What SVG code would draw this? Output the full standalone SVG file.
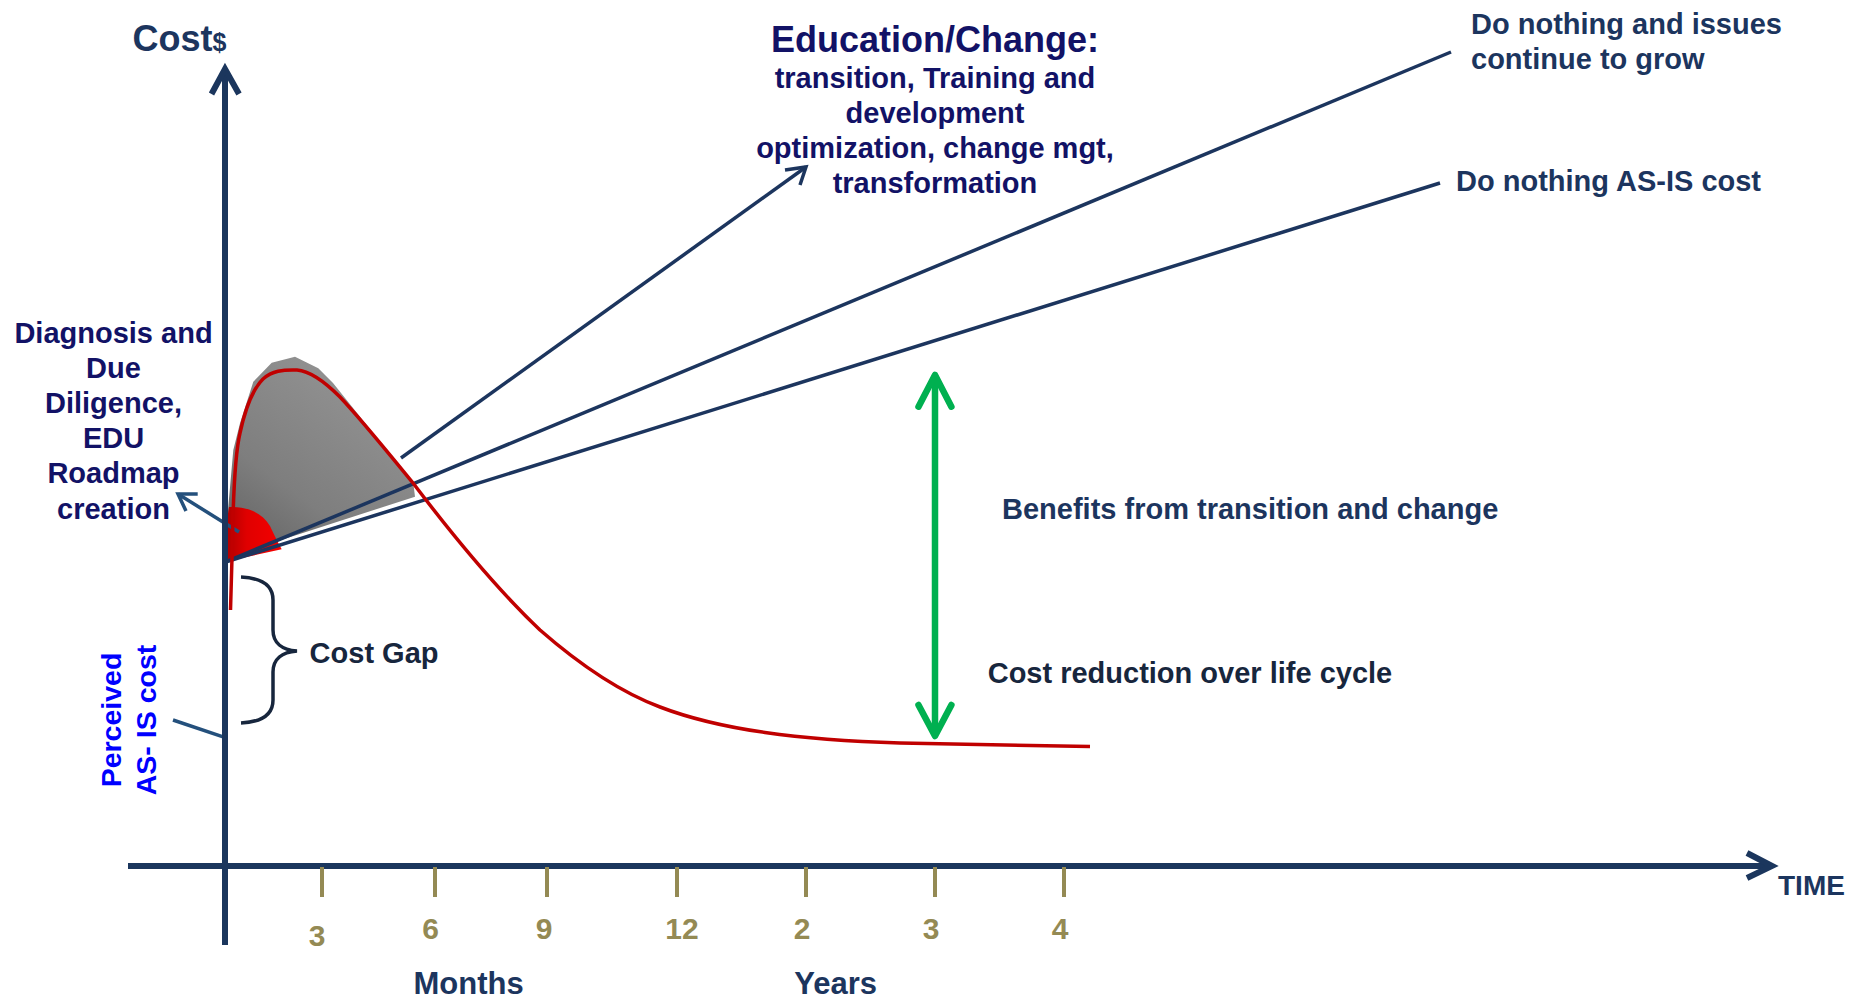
<svg xmlns="http://www.w3.org/2000/svg" width="1849" height="1000" viewBox="0 0 1849 1000">
<style>
.t{font-family:"Liberation Sans",Arial,sans-serif;font-weight:bold}
.navy{fill:#121266}
.slate{fill:#1c355e}
.dark{fill:#17263d}
.f29{font-size:29px}
.tl{fill:#948a54;font-size:30px;text-anchor:middle}
.tick{stroke:#948a54;stroke-width:4}
.ln{stroke:#1c355e;stroke-width:3.5;fill:none;stroke-linecap:butt}
.ax{stroke:#1b365d;stroke-width:6;fill:none;stroke-linejoin:miter}
.ptr{stroke:#24507c;stroke-width:3.5;fill:none}
.grn{stroke:#00b050;stroke-width:6.5;fill:none;stroke-linecap:round;stroke-linejoin:round}
.mid{text-anchor:middle}
</style>
<defs>
<linearGradient id="gray" x1="0.1" y1="1" x2="0.7" y2="0.1">
<stop offset="0" stop-color="#606060"/>
<stop offset="0.4" stop-color="#7e7e7e"/>
<stop offset="1" stop-color="#929292"/>
</linearGradient>
<linearGradient id="redg" x1="0" y1="0" x2="1" y2="0">
<stop offset="0" stop-color="#a80000"/>
<stop offset="0.4" stop-color="#e00000"/>
<stop offset="1" stop-color="#f50000"/>
</linearGradient>
</defs>
<rect width="1849" height="1000" fill="#ffffff"/>

<g id="phase-shapes">
<polygon points="224,562.6 226,545 228.3,506.7 233.3,450 240,423.3 253.3,381.7 271.7,362.7 295,356.7 318.3,368.3 333,383 413.3,483.3 415,496.7 278,541" fill="url(#gray)"/>
<path d="M223.5,562 L224,540 L229,507 C245,506 262,512 270,526 L276.7,540 L281.7,549.3 Z" fill="url(#redg)"/>
</g>

<g id="connectors">
<line class="ln" x1="224" y1="562.5" x2="1451" y2="52"/>
<line class="ln" x1="224" y1="562.5" x2="1440" y2="183"/>
<line class="ln" x1="401" y1="458" x2="806" y2="167"/>
<polyline class="ln" points="785,170 806,167 800,185"/>
<line class="ptr" x1="239" y1="532" x2="178" y2="494"/>
<polyline class="ptr" points="197.7,494 178,494 186,511"/>
<line class="ptr" x1="173" y1="720" x2="224.6" y2="737.3"/>
<line class="grn" x1="935" y1="377" x2="935" y2="734"/>
<polyline class="grn" points="918.5,406.7 935,375 951.4,406.7"/>
<polyline class="grn" points="918.5,705 935,736 951.4,705"/>
<path d="M241,577 C262,578 273,586 273,600 L273,630 C273,643 282,650 297,651 C282,652 273,659 273,672 L273,700 C273,714 262,722 241,723" fill="none" stroke="#17263d" stroke-width="3.5"/>
</g>

<g id="cost-curve">
<path d="M230.5,610 L232.5,540 C233.5,480 236,450 240,433 C245,410 252,390 263,379 C272,371 283,369.5 297,370 C310,371 325,382 340,397 C360,418 390,455 413,483 C460,545 500,592 540,630 C580,665 620,692 660,707 C720,730 800,740 900,743 L1090,746.5" fill="none" stroke="#c00000" stroke-width="3.5"/>
</g>

<g id="axes">
<line class="ax" x1="225" y1="945" x2="225" y2="72"/>
<polyline class="ax" points="211.5,94 225,69 239,94"/>
<line class="ax" x1="128" y1="866" x2="1769" y2="866"/>
<polyline class="ax" points="1747,853 1772,866 1747,878"/>
</g>

<g id="ticks">
<line class="tick" x1="322" y1="867" x2="322" y2="897"/>
<line class="tick" x1="435" y1="867" x2="435" y2="897"/>
<line class="tick" x1="547" y1="867" x2="547" y2="897"/>
<line class="tick" x1="677" y1="867" x2="677" y2="897"/>
<line class="tick" x1="806" y1="867" x2="806" y2="897"/>
<line class="tick" x1="935" y1="867" x2="935" y2="897"/>
<line class="tick" x1="1064" y1="867" x2="1064" y2="897"/>
<text class="t tl" x="317" y="946">3</text>
<text class="t tl" x="430.6" y="939">6</text>
<text class="t tl" x="544" y="939">9</text>
<text class="t tl" x="682" y="939">12</text>
<text class="t tl" x="802" y="939">2</text>
<text class="t tl" x="931" y="939">3</text>
<text class="t tl" x="1060" y="939">4</text>
</g>

<g id="axis-labels">
<text class="t slate" x="132.5" y="50.5" font-size="36">Cost<tspan font-size="25">$</tspan></text>
<text class="t slate" x="1778" y="895" font-size="28">TIME</text>
<text class="t slate mid" x="468.6" y="994" font-size="31">Months</text>
<text class="t slate mid" x="835.6" y="994" font-size="31">Years</text>
</g>

<g id="education-label">
<text class="t navy mid" x="935" y="52" font-size="36">Education/Change:</text>
<text class="t navy mid f29" x="935" y="88.4">transition, Training and</text>
<text class="t navy mid f29" x="935" y="123">development</text>
<text class="t navy mid f29" x="935" y="158">optimization, change mgt,</text>
<text class="t navy mid f29" x="935" y="193">transformation</text>
</g>

<g id="do-nothing-grow">
<text class="t slate f29" x="1471" y="34">Do nothing and issues</text>
<text class="t slate f29" x="1471" y="69">continue to grow</text>
</g>

<g id="do-nothing-asis">
<text class="t slate f29" x="1456" y="190.5">Do nothing AS-IS cost</text>
</g>

<g id="diagnosis-label">
<text class="t navy mid f29" x="113.5" y="342.5">Diagnosis and</text>
<text class="t navy mid f29" x="113.5" y="377.7">Due</text>
<text class="t navy mid f29" x="113.5" y="412.9">Diligence,</text>
<text class="t navy mid f29" x="113.5" y="448.1">EDU</text>
<text class="t navy mid f29" x="113.5" y="483.3">Roadmap</text>
<text class="t navy mid f29" x="113.5" y="518.5">creation</text>
</g>

<g id="benefits-label">
<text class="t slate f29" x="1002" y="519">Benefits from transition and change</text>
</g>

<g id="cost-reduction-label">
<text class="t dark f29" x="987.7" y="683">Cost reduction over life cycle</text>
</g>

<g id="cost-gap-label">
<text class="t dark f29" x="309.6" y="663">Cost Gap</text>
</g>

<g id="perceived-label">
<text class="t mid" fill="#0000ff" font-size="28.5" transform="translate(120.5,720) rotate(-90)">Perceived</text>
<text class="t mid" fill="#0000ff" font-size="28.5" transform="translate(156,720) rotate(-90)">AS- IS cost</text>
</g>
</svg>
